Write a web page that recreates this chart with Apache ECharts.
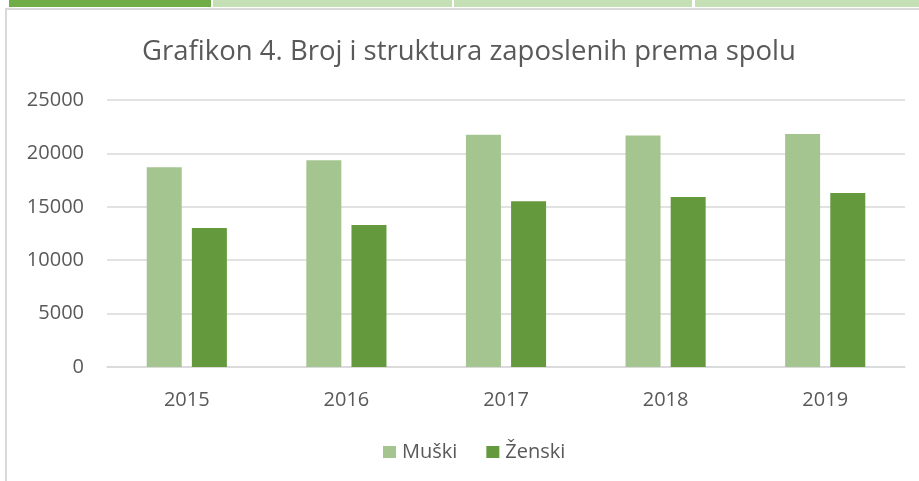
<!DOCTYPE html>
<html>
<head>
<meta charset="utf-8">
<script src="https://cdn.jsdelivr.net/npm/echarts@6/dist/echarts.min.js"></script>
<style>
html,body{margin:0;padding:0;background:#fff;}
#c{width:919px;height:481px;}
</style>
</head>
<body>
<div id="c"></div>
<script>
var categories = ['2015', '2016', '2017', '2018', '2019'];
var muski = [18700, 19350, 21750, 21680, 21820];
var zenski = [13020, 13300, 15510, 15920, 16290];
var yTicks = [0, 5000, 10000, 15000, 20000, 25000];

var FONT = '"Open Sans", sans-serif';
var TXT = '#595959';
var chart = echarts.init(document.getElementById('c'), null, {renderer: 'canvas'});
chart.setOption({
  animation: false,
  backgroundColor: '#ffffff',
  graphic: [
    {type: 'rect', shape: {x: 9, y: 0, width: 202, height: 7}, style: {fill: '#70ad47'}, silent: true},
    {type: 'rect', shape: {x: 213, y: 0, width: 239, height: 7}, style: {fill: '#c5e0b4'}, silent: true},
    {type: 'rect', shape: {x: 454, y: 0, width: 238, height: 7}, style: {fill: '#c5e0b4'}, silent: true},
    {type: 'rect', shape: {x: 695, y: 0, width: 224, height: 7}, style: {fill: '#c5e0b4'}, silent: true},
    {type: 'rect', shape: {x: 5, y: 8, width: 914, height: 2}, style: {fill: '#d9d9d9'}, silent: true},
    {type: 'rect', shape: {x: 5, y: 8, width: 2, height: 473}, style: {fill: '#d9d9d9'}, silent: true}
  ],
  title: {
    text: 'Grafikon 4. Broj i struktura zaposlenih prema spolu',
    left: 464, top: 33, textAlign: 'center',
    textStyle: {fontFamily: FONT, fontSize: 27.5, fontWeight: 'normal', color: TXT}
  },
  legend: {
    data: ['Muški', 'Ženski'],
    left: 378, top: 437,
    icon: 'rect', itemWidth: 13, itemHeight: 12, itemGap: 29,
    textStyle: {fontFamily: FONT, fontSize: 20, color: TXT, padding: [0, 0, 0, 1]}
  },
  grid: {left: 107, right: 14, top: 100, bottom: 114, containLabel: false},
  xAxis: {
    type: 'category', data: categories,
    axisLine: {show: true, lineStyle: {color: '#d9d9d9', width: 1.5}},
    axisTick: {show: false},
    axisLabel: {fontFamily: FONT, fontSize: 20, color: TXT, margin: 23}
  },
  yAxis: {
    type: 'value', min: yTicks[0], max: yTicks[yTicks.length - 1], interval: 5000,
    axisLine: {show: false}, axisTick: {show: false},
    splitLine: {lineStyle: {color: '#d9d9d9', width: 1.5}},
    axisLabel: {fontFamily: FONT, fontSize: 20, color: TXT, margin: 23,
      formatter: function (v) { return String(v); }}
  },
  series: [
    {name: 'Muški', type: 'bar', data: muski, barWidth: 35, barGap: '29%',
     itemStyle: {color: '#a4c58f'}},
    {name: 'Ženski', type: 'bar', data: zenski, barWidth: 35,
     itemStyle: {color: '#64993e'}}
  ]
});
</script>
</body>
</html>
